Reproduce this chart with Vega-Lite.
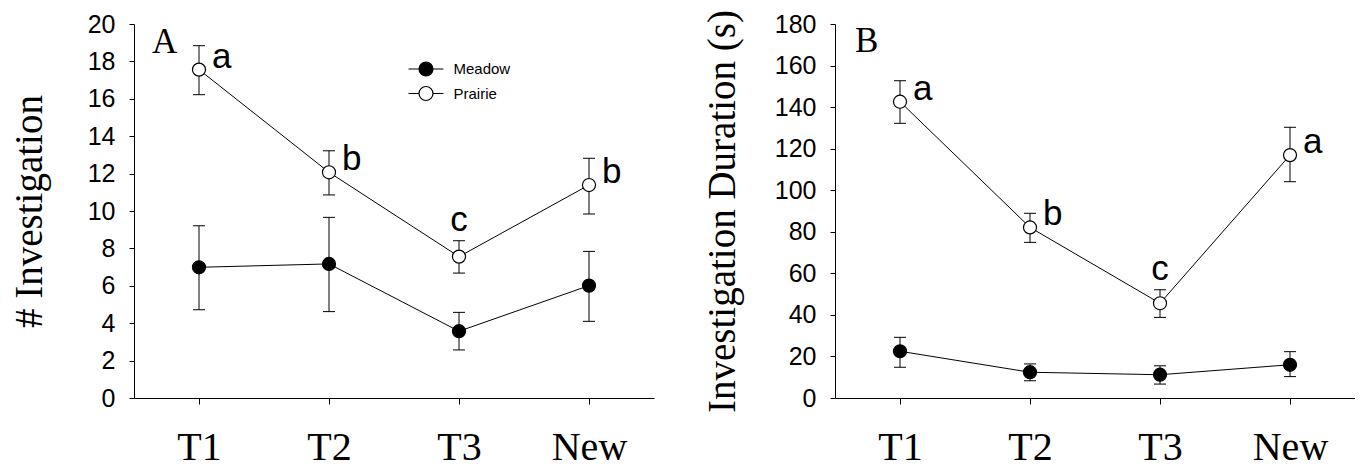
{
  "$schema": "https://vega.github.io/schema/vega-lite/v6.json",
  "background": "white",
  "padding": {"left": 10, "top": 9, "right": 0, "bottom": 0},
  "spacing": 181,
  "bounds": "flush",
  "resolve": {"scale": {"fill": "independent"}, "legend": {"fill": "independent"}},
  "config": {
    "view": {"stroke": null},
    "tick": {"opacity": 1},
    "axis": {
      "grid": false,
      "domainColor": "black",
      "domainWidth": 1,
      "tickColor": "black",
      "tickWidth": 1,
      "labelColor": "black",
      "titleColor": "black",
      "labelOverlap": false
    },
    "axisX": {
      "labelFont": "Liberation Serif",
      "labelFontSize": 40,
      "labelBaseline": "alphabetic",
      "labelPadding": 55,
      "tickSize": 6,
      "labelAngle": 0,
      "title": null
    },
    "axisY": {
      "labelFont": "Liberation Sans",
      "labelFontSize": 25,
      "labelPadding": 14,
      "tickSize": 5,
      "labelFlush": false,
      "labelOverlap": false,
      "labelSeparation": -20,
      "titleFont": "Liberation Serif",
      "titleFontSize": 39,
      "titleFontWeight": "normal",
      "titleAngle": -90,
      "titleAlign": "center",
      "titleBaseline": "alphabetic",
      "titleY": 187
    },
    "title": {
      "font": "Liberation Serif",
      "fontSize": 35,
      "fontWeight": "normal",
      "color": "black",
      "anchor": "start",
      "frame": "group",
      "baseline": "alphabetic",
      "offset": 0
    }
  },
  "hconcat": [
    {
      "width": 520,
      "height": 374,
      "title": {"text": "A", "dx": 18, "dy": 52},
      "data": {
        "values": [
          {"period": "T1", "group": "Meadow", "mean": 6.99, "lower": 4.72, "upper": 9.21, "sig": ""},
          {"period": "T2", "group": "Meadow", "mean": 7.17, "lower": 4.62, "upper": 9.66, "sig": ""},
          {"period": "T3", "group": "Meadow", "mean": 3.57, "lower": 2.57, "upper": 4.58, "sig": ""},
          {"period": "New", "group": "Meadow", "mean": 6.01, "lower": 4.1, "upper": 7.84, "sig": ""},
          {"period": "T1", "group": "Prairie", "mean": 17.56, "lower": 16.22, "upper": 18.84, "sig": "a"},
          {"period": "T2", "group": "Prairie", "mean": 12.07, "lower": 10.86, "upper": 13.22, "sig": "b"},
          {"period": "T3", "group": "Prairie", "mean": 7.56, "lower": 6.68, "upper": 8.41, "sig": "c"},
          {"period": "New", "group": "Prairie", "mean": 11.39, "lower": 9.84, "upper": 12.82, "sig": "b"}
        ]
      },
      "encoding": {
        "x": {"field": "period", "type": "ordinal", "sort": ["T1", "T2", "T3", "New"], "scale": {"type": "point", "padding": 0.5}, "title": null},
        "y": {"field": "mean", "type": "quantitative", "title": "# Investigation", "scale": {"domain": [0, 20], "nice": false}, "axis": {"values": [0, 2, 4, 6, 8, 10, 12, 14, 16, 18, 20], "tickCount": 11, "labelOverlap": false, "titleX": -93}}
      },
      "layer": [
        {
          "mark": {"type": "rule", "color": "black", "strokeWidth": 1},
          "encoding": {
            "y": {"field": "lower", "type": "quantitative", "title": "# Investigation"},
            "y2": {"field": "upper"}
          }
        },
        {
          "mark": {"type": "tick", "color": "black", "size": 12, "thickness": 1, "opacity": 1},
          "encoding": {"y": {"field": "upper", "type": "quantitative", "title": "# Investigation"}}
        },
        {
          "mark": {"type": "tick", "color": "black", "size": 12, "thickness": 1, "opacity": 1},
          "encoding": {"y": {"field": "lower", "type": "quantitative", "title": "# Investigation"}}
        },
        {
          "mark": {"type": "line", "color": "black", "strokeWidth": 1},
          "encoding": {"detail": {"field": "group"}}
        },
        {
          "mark": {"type": "point", "shape": "circle", "size": 170, "filled": true, "stroke": "black", "strokeWidth": 1.2, "opacity": 1},
          "encoding": {
            "fill": {
              "field": "group", "type": "nominal",
              "scale": {"domain": ["Meadow", "Prairie"], "range": ["black", "white"]},
              "legend": {
                "orient": "none", "legendX": 273.5, "legendY": 35, "title": null, "padding": 0,
                "symbolType": "M-1,0L-0.4,0M0.4,0L1,0M0.4,0A0.4,0.4,0,1,1,-0.4,0A0.4,0.4,0,1,1,0.4,0Z",
                "symbolSize": 1225, "symbolStrokeColor": "black", "symbolStrokeWidth": 1.2, "symbolOpacity": 1,
                "labelFont": "Liberation Sans", "labelFontSize": 15, "labelColor": "black", "labelOffset": 9,
                "clipHeight": 20, "rowPadding": 4.5
              }
            }
          }
        },
        {
          "transform": [{"filter": "datum.sig != '' && datum.period != 'T3'"}],
          "mark": {"type": "text", "font": "Liberation Sans", "fontSize": 35, "align": "left", "baseline": "alphabetic", "dx": 13, "dy": -2, "color": "black"},
          "encoding": {"text": {"field": "sig"}}
        },
        {
          "transform": [{"filter": "datum.sig != '' && datum.period == 'T3'"}],
          "mark": {"type": "text", "font": "Liberation Sans", "fontSize": 35, "align": "center", "baseline": "alphabetic", "dy": -10, "color": "black"},
          "encoding": {"y": {"field": "upper", "type": "quantitative", "title": "# Investigation"}, "text": {"field": "sig"}}
        }
      ]
    },
    {
      "width": 520,
      "height": 374,
      "title": {"text": "B", "dx": 20, "dy": 53},
      "data": {
        "values": [
          {"period": "T1", "group": "Meadow", "mean": 22.5, "lower": 14.8, "upper": 29.2, "sig": ""},
          {"period": "T2", "group": "Meadow", "mean": 12.4, "lower": 8.3, "upper": 16.4, "sig": ""},
          {"period": "T3", "group": "Meadow", "mean": 11.2, "lower": 6.7, "upper": 15.5, "sig": ""},
          {"period": "New", "group": "Meadow", "mean": 16.0, "lower": 10.3, "upper": 22.3, "sig": ""},
          {"period": "T1", "group": "Prairie", "mean": 142.6, "lower": 132.2, "upper": 152.7, "sig": "a"},
          {"period": "T2", "group": "Prairie", "mean": 82.1, "lower": 74.9, "upper": 88.9, "sig": "b"},
          {"period": "T3", "group": "Prairie", "mean": 45.6, "lower": 38.8, "upper": 52.1, "sig": "c"},
          {"period": "New", "group": "Prairie", "mean": 116.9, "lower": 104.1, "upper": 130.3, "sig": "a"}
        ]
      },
      "encoding": {
        "x": {"field": "period", "type": "ordinal", "sort": ["T1", "T2", "T3", "New"], "scale": {"type": "point", "padding": 0.5}, "title": null},
        "y": {"field": "mean", "type": "quantitative", "title": "Investigation Duration (s)", "scale": {"domain": [0, 180], "nice": false}, "axis": {"values": [0, 20, 40, 60, 80, 100, 120, 140, 160, 180], "labelOverlap": false, "titleX": -101}}
      },
      "layer": [
        {
          "mark": {"type": "rule", "color": "black", "strokeWidth": 1},
          "encoding": {
            "y": {"field": "lower", "type": "quantitative", "title": "Investigation Duration (s)"},
            "y2": {"field": "upper"}
          }
        },
        {
          "mark": {"type": "tick", "color": "black", "size": 12, "thickness": 1, "opacity": 1},
          "encoding": {"y": {"field": "upper", "type": "quantitative", "title": "Investigation Duration (s)"}}
        },
        {
          "mark": {"type": "tick", "color": "black", "size": 12, "thickness": 1, "opacity": 1},
          "encoding": {"y": {"field": "lower", "type": "quantitative", "title": "Investigation Duration (s)"}}
        },
        {
          "mark": {"type": "line", "color": "black", "strokeWidth": 1},
          "encoding": {"detail": {"field": "group"}}
        },
        {
          "mark": {"type": "point", "shape": "circle", "size": 170, "filled": true, "stroke": "black", "strokeWidth": 1.2, "opacity": 1},
          "encoding": {
            "fill": {"field": "group", "type": "nominal", "scale": {"domain": ["Meadow", "Prairie"], "range": ["black", "white"]}, "legend": null}
          }
        },
        {
          "transform": [{"filter": "datum.sig != '' && datum.period != 'T3'"}],
          "mark": {"type": "text", "font": "Liberation Sans", "fontSize": 35, "align": "left", "baseline": "alphabetic", "dx": 13, "dy": -2, "color": "black"},
          "encoding": {"text": {"field": "sig"}}
        },
        {
          "transform": [{"filter": "datum.sig != '' && datum.period == 'T3'"}],
          "mark": {"type": "text", "font": "Liberation Sans", "fontSize": 35, "align": "center", "baseline": "alphabetic", "dy": -10, "color": "black"},
          "encoding": {"y": {"field": "upper", "type": "quantitative", "title": "Investigation Duration (s)"}, "text": {"field": "sig"}}
        }
      ]
    }
  ]
}
